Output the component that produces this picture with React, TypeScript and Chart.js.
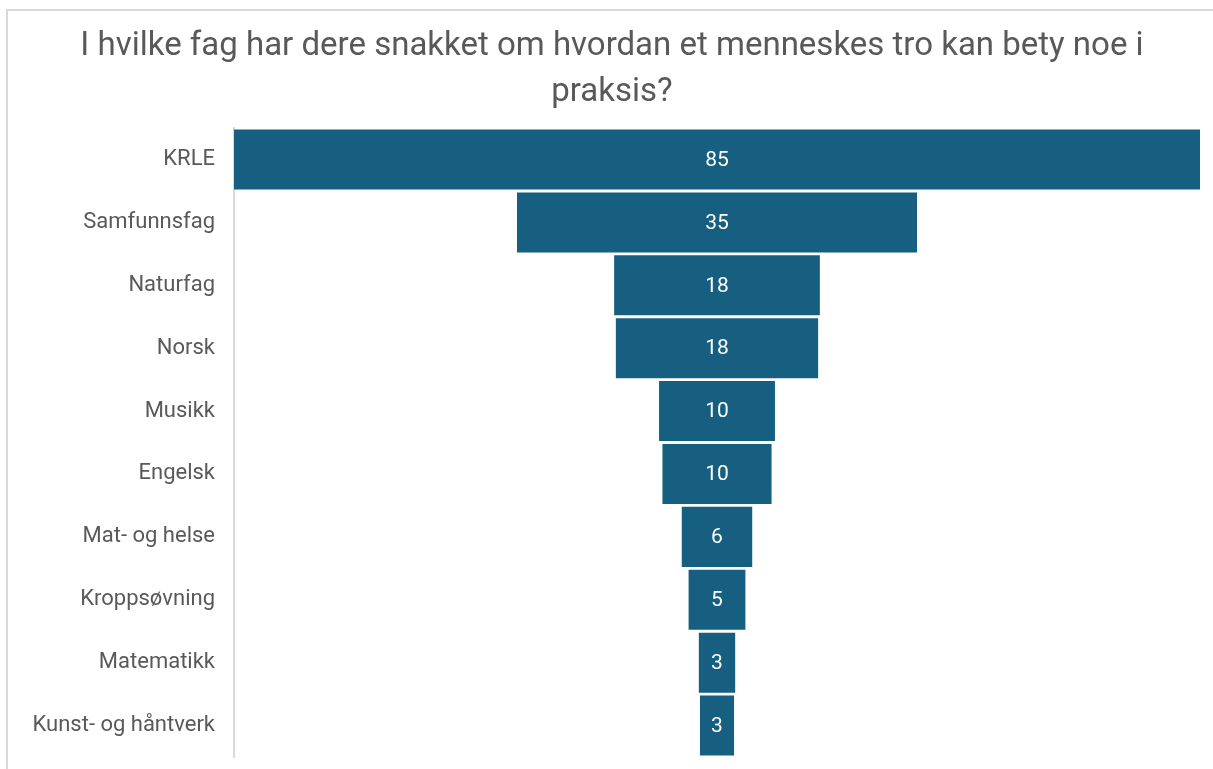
import React, { useEffect, useRef } from "react";
import { Chart, registerables } from "chart.js";

Chart.register(...registerables);

const TITLE_LINES = [
  "I hvilke fag har dere snakket om hvordan et menneskes tro kan bety noe i",
  "praksis?",
];
const CATEGORIES = [
  "KRLE",
  "Samfunnsfag",
  "Naturfag",
  "Norsk",
  "Musikk",
  "Engelsk",
  "Mat- og helse",
  "Kroppsøvning",
  "Matematikk",
  "Kunst- og håntverk",
];
const VALUES = [85, 35.2, 18.1, 17.8, 10.2, 9.6, 6.2, 5.0, 3.2, 3.0];

const BAR_COLOR = "#165F81";
const TEXT_COLOR = "#595959";
const FONT = "Roboto, 'Liberation Sans', sans-serif";

const borderPlugin = {
  id: "outerBorder",
  beforeDraw(chart: any) {
    const ctx = chart.ctx;
    ctx.save();
    ctx.strokeStyle = "#d9d9d9";
    ctx.lineWidth = 2;
    ctx.strokeRect(7, 10, 3000, 3000);
    ctx.restore();
  },
};

const valueLabelPlugin = {
  id: "valueLabels",
  afterDatasetsDraw(chart: any) {
    const ctx = chart.ctx;
    const meta = chart.getDatasetMeta(0);
    ctx.save();
    ctx.fillStyle = "#ffffff";
    ctx.font = `21px ${FONT}`;
    ctx.textAlign = "center";
    ctx.textBaseline = "middle";
    meta.data.forEach((bar: any, i: number) => {
      const { x, y, base } = bar.getProps(["x", "y", "base"], true);
      ctx.fillText(String(Math.round(VALUES[i])), (x + base) / 2, y + 1);
    });
    ctx.restore();
  },
};

export default function App() {
  const ref = useRef<HTMLCanvasElement | null>(null);
  useEffect(() => {
    if (!ref.current) return;
    const half = Math.max(...VALUES) / 2;
    const chart = new Chart(ref.current, {
      type: "bar",
      data: {
        labels: CATEGORIES,
        datasets: [
          {
            data: VALUES.map((v) => [-v / 2, v / 2]) as any,
            backgroundColor: BAR_COLOR,
            borderWidth: 0,
            barPercentage: 0.955,
            categoryPercentage: 1,
          },
        ],
      },
      options: {
        indexAxis: "y",
        animation: false,
        responsive: false,
        layout: { padding: { left: 24, right: 13, top: 0, bottom: 12 } },
        plugins: {
          legend: { display: false },
          tooltip: { enabled: false },
          title: {
            display: true,
            text: TITLE_LINES,
            color: TEXT_COLOR,
            font: { family: FONT, size: 33, weight: "normal", lineHeight: 1.38 },
            padding: { top: 24, bottom: 13 },
          },
        },
        scales: {
          x: {
            display: false,
            min: -half,
            max: half,
          },
          y: {
            grid: { display: false },
            border: { display: true, color: "#d9d9d9", width: 2 },
            ticks: {
              color: TEXT_COLOR,
              font: { family: FONT, size: 22 },
              padding: 11,
            },
            afterFit(scale: any) {
              scale.width = 210;
              scale.paddingTop = 0;
              scale.paddingBottom = 0;
            },
          },
        },
      },
      plugins: [borderPlugin, valueLabelPlugin],
    });
    return () => chart.destroy();
  }, []);
  return (
    <div
      style={{
        position: "fixed",
        left: 0,
        top: 0,
        width: 1213,
        height: 769,
        overflow: "hidden",
        background: "#fff",
      }}
    >
      <canvas ref={ref} width={1213} height={769} />
    </div>
  );
}
